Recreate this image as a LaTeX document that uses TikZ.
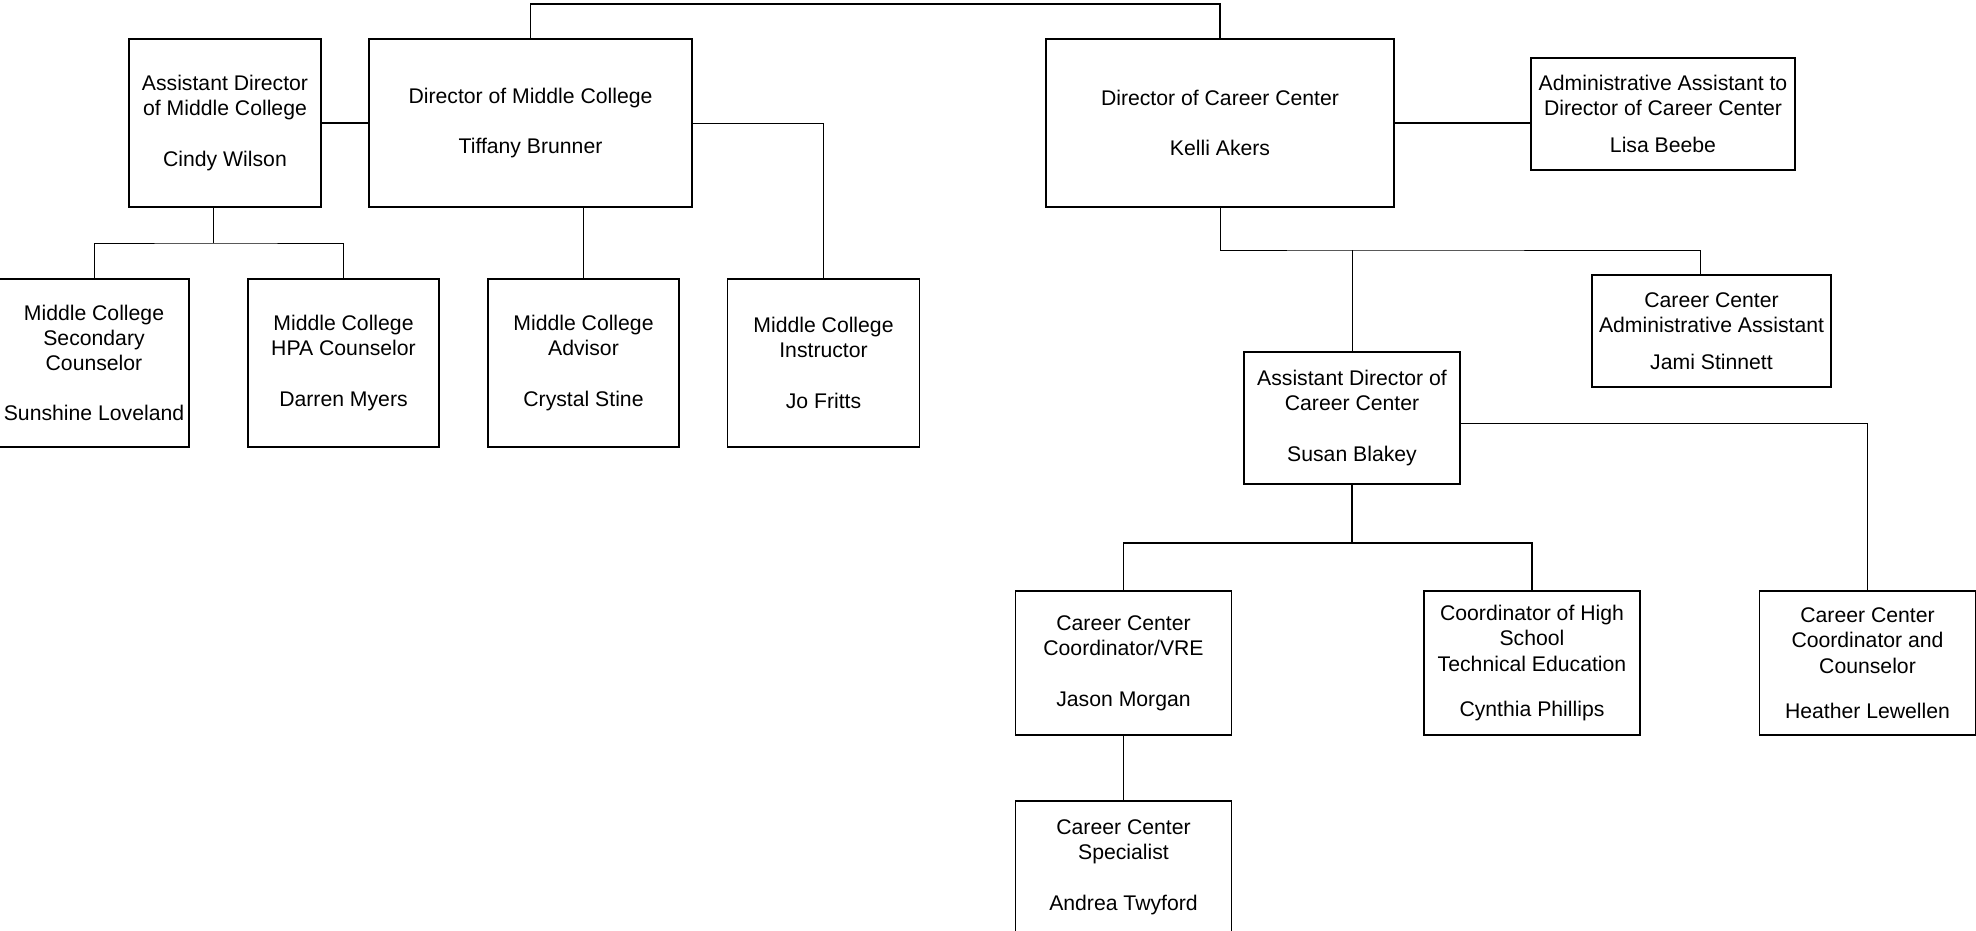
\documentclass[tikz,border=0pt]{standalone}
\usepackage{fontspec}
\setmainfont{Liberation Sans}

\begin{document}
\begin{tikzpicture}[x=0.5pt,y=-0.5pt,node distance=120pt,
  every node/.style={font=\fontsize{10.6}{12.6}\selectfont},
  box/.style 2 args={draw,line width=0.65pt,align=center,inner sep=1pt,minimum width=#1,minimum height=#2},
  thin/.style={line width=0.35pt},
  thick/.style={line width=0.6pt}]

\useasboundingbox (0,0) rectangle (1976,931);

% middle college
\node[box={96pt}{84pt}]      (amc) at (225,123)   {Assistant Director\\of Middle College\\[12.6pt]Cindy Wilson};
 \node[box={161.5pt}{84pt}]  (dmc) at (530.5,123) {Director of Middle College\\[12.6pt]Tiffany Brunner};
	\node[box={95pt}{84pt}]    (sun) at (94,363)    {Middle College\\Secondary\\Counselor\\[12.6pt]Sunshine Loveland};
	\node[box={95.5pt}{84pt}]  (dar) at (343.5,363) {Middle College\\HPA Counselor\\[12.6pt]Darren Myers};
	\node[box={95.5pt}{84pt}]  (cry) [right of=dar] {Middle College\\Advisor\\[12.6pt]Crystal Stine};
	\node[box={96pt}{84pt}]    (jo)  [right of=cry] {Middle College\\Instructor\\[12.6pt]Jo Fritts};

% career center
\node[box={174pt}{84pt}]     (dcc) at (1220,123)  {Director of Career Center\\[12.6pt]Kelli Akers};
	\node[box={132pt}{56pt}]   (adm) at (1663,114)  {Administrative Assistant to\\Director of Career Center\\[6pt]Lisa Beebe};
	\node[box={119.5pt}{56pt}] (jam) at (1711.5,331) {Career Center\\Administrative Assistant\\[6pt]Jami Stinnett};
	\node[box={108pt}{66pt}]   (sus) at (1352,418)  {Assistant Director of\\Career Center\\[12.6pt]Susan Blakey};
	\node[box={108pt}{72pt}]   (jas) at (1123.5,663) {Career Center\\Coordinator/VRE\\[12.6pt]Jason Morgan};
	\node[box={108pt}{72pt}]   (cyn) at (1532,663)  {Coordinator of High\\School\\Technical Education\\[9.9pt]Cynthia Phillips};
	\node[box={108pt}{72pt}]   (hea) at (1867.5,663) {Career Center\\Coordinator and\\Counselor\\[9.9pt]Heather Lewellen};
	\node[box={108pt}{66pt}]   (and) [below of=jas,node distance=102pt] {Career Center\\Specialist\\[12.6pt]Andrea Twyford};

\coordinate (top) at (0,4);
\coordinate (mcfork) at (213,243);
\coordinate (ccfork) at (1352,250);
\coordinate (jamtop) at (1700,275);
\coordinate (susfork) at (1352,543);

\draw[thick] (dmc.north) -- (dmc.north |- top) -| (dcc.north);
\draw[thick] (amc.east) -- (dmc.west);
\draw[thin]  (dmc.east) -| (jo.north);
\draw[thin]  (cry.north) -- (cry.north |- dmc.south);
\draw[thin]  (mcfork |- amc.south) -- (mcfork);
\draw[thin]  (sun.north) |- (mcfork) -| (dar.north);

\draw[thick] (dcc.east) -- (dcc.east -| adm.west);
\draw[thin]  (dcc.south) |- (ccfork) -| (jamtop);
\draw[thin]  (ccfork) -- (sus.north);
\draw[thin]  (sus.east |- 0,423) -| (hea.north);
\draw[thick] (sus.south) -- (susfork);
\draw[thick] (jas.north) |- (susfork) -| (cyn.north);
\draw[thick] (jas.south) -- (and.north);

\end{tikzpicture}
\end{document}
